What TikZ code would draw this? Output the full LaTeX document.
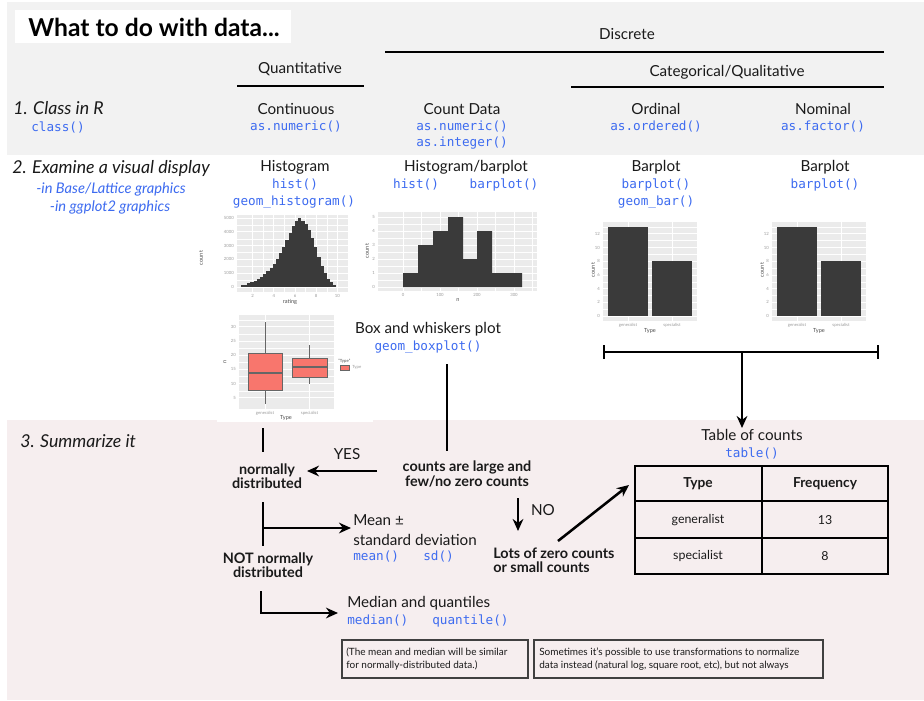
\documentclass[tikz,border=0pt]{standalone}
\usepackage{fontspec}
\setmainfont{Lato}
\setmonofont{DejaVu Sans Mono}
\usetikzlibrary{arrows.meta}
\definecolor{bggray}{HTML}{F2F2F2}
\definecolor{bgpink}{HTML}{F6EEEF}
\definecolor{codeblue}{HTML}{3D6BF0}
\definecolor{panel}{HTML}{EBEBEB}
\definecolor{barc}{HTML}{3A3A3A}
\definecolor{boxfill}{HTML}{F8766D}
\definecolor{tickc}{HTML}{9A9A9A}
\definecolor{textc}{HTML}{1A1A1A}
\tikzset{
  lbl/.style={font=\fontsize{11.4}{13.5}\selectfont, text=textc, inner sep=0pt},
  code/.style={font=\ttfamily\fontsize{9.5}{11}\selectfont, text=codeblue, inner sep=0pt},
  hdr/.style={font=\itshape\fontsize{13.3}{15}\selectfont, text=textc, inner sep=0pt, anchor=west},
  sub/.style={font=\itshape\fontsize{11}{13}\selectfont, text=codeblue, inner sep=0pt},
  flow/.style={font=\bfseries\fontsize{10.8}{10.8}\selectfont, text=textc, inner sep=0pt, align=center},
  rule/.style={line width=2.2pt},
  conn/.style={line width=1.9pt},
  arr/.style={line width=1.9pt, -{Stealth[length=9pt,width=8pt]}},
  tk/.style={font=\fontsize{3.2}{4}\selectfont, text=tickc, inner sep=0pt},
  axl/.style={font=\fontsize{4.2}{5}\selectfont, text=black!70, inner sep=0pt},
  note/.style={font=\fontsize{7.5}{10}\selectfont, text=textc, inner sep=0pt, align=left, anchor=west},
  notebox/.style={draw=black!75, line width=1pt},
  grid/.style={white, line width=0.5pt},
  mgrid/.style={white!97!panel, line width=0.25pt},
  cell/.style={font=\fontsize{9.3}{11}\selectfont, text=textc, inner sep=0pt},
  cellh/.style={font=\bfseries\fontsize{10.3}{12}\selectfont, text=textc, inner sep=0pt},
}
\begin{document}
\begin{tikzpicture}[x=0.75pt,y=-0.75pt]
\useasboundingbox (0,0) rectangle (924,700);
\fill[white] (0,0) rectangle (924,700);
% backgrounds
\fill[bggray] (7,2) rectangle (924,155);
\fill[bgpink] (7,420) rectangle (924,700);
% title
\fill[white] (15,10) rectangle (291,43);
\node[font=\bfseries\fontsize{18.5}{20}\selectfont, inner sep=0pt] (title) at (154,27) {What to do with data...};
% header
\node[lbl] (discrete) at (627,34) {Discrete};
\draw[rule] (385,52) -- (884,52);
\node[lbl] (quant) at (300,69) {Quantitative};
\draw[rule] (237,86) -- (364,86);
\node[lbl] (categ) at (727,72) {Categorical/Qualitative};
\draw[rule] (571,87) -- (884,87);
% row 1
\node[hdr] (s1) at (13,108) {1. Class in R};
\node[code, anchor=west] (c1) at (31,127) {class()};
\node[lbl] (cont) at (296,109) {Continuous};
\node[code] (cont1) at (296,127) {as.numeric()};
\node[lbl] (count) at (462,109) {Count Data};
\node[code] (count1) at (462,127) {as.numeric()};
\node[code] (count2) at (462,143) {as.integer()};
\node[lbl] (ord) at (656,109) {Ordinal};
\node[code] (ord1) at (656,127) {as.ordered()};
\node[lbl] (nom) at (823,109) {Nominal};
\node[code] (nom1) at (823,127) {as.factor()};
% row 2
\node[hdr] (s2) at (12,168) {2. Examine a visual display};
\node[sub] (sub1) at (111,189) {-in Base/Lattice graphics};
\node[sub] (sub2) at (110,207) {-in ggplot2 graphics};
\node[lbl] (h1) at (295,167) {Histogram};
\node[code] (h1a) at (295,185) {hist()};
\node[code] (h1b) at (294,202) {geom\_histogram()};
\node[lbl] (h2) at (466,167) {Histogram/barplot};
\node[code] (h2a) at (416,185) {hist()};
\node[code] (h2b) at (504,185) {barplot()};
\node[lbl] (b1) at (656,167) {Barplot};
\node[code] (b1a) at (656,185) {barplot()};
\node[code] (b1b) at (656,202) {geom\_bar()};
\node[lbl] (b2) at (825,167) {Barplot};
\node[code] (b2a) at (825,185) {barplot()};

% ---------- histogram 1 ----------
\fill[panel] (237,215) rectangle (348,292);
\foreach \r in {3,5,7,9} \draw[mgrid] ({242+(\r-1)*10.6},215) -- ({242+(\r-1)*10.6},292);
\foreach \c in {0.5,1.5,2.5,3.5,4.5} \draw[mgrid] (237,{287-\c*13.8}) -- (348,{287-\c*13.8});
\foreach \r in {2,4,6,8,10} \draw[grid] ({242+(\r-1)*10.6},215) -- ({242+(\r-1)*10.6},292);
\foreach \c in {0,...,5} \draw[grid] (237,{287-\c*13.8}) -- (348,{287-\c*13.8});
\foreach \h [count=\i from 0] in {0.12,0.18,0.28,0.35,0.45,0.6,0.75,0.95,1.15,1.4,1.7,2.05,2.45,2.9,3.4,3.9,4.4,4.75,5.0,4.8,4.55,4.1,3.55,2.9,2.2,1.55,1.0,0.6,0.35,0.18}
  \fill[barc] ({242+(\i*0.3-0.1)*10.6},287) rectangle ++(3.25,{-\h*13.8});
\foreach \c/\t in {0/0,1/1000,2/2000,3/3000,4/4000,5/5000} \node[tk, anchor=east] at (234,{287-\c*13.8}) {\t};
\foreach \r in {2,4,6,8,10} \node[tk] at ({242+(\r-1)*10.6},296) {\r};
\node[axl] (h1x) at (290,302) {rating};
\node[axl, rotate=90] (h1y) at (201,258) {count};

% ---------- histogram 2 ----------
\fill[panel] (378,212) rectangle (537,291);
\foreach \x in {421.5,458.5,495.5,532.5} \draw[mgrid] (\x,212) -- (\x,291);
\foreach \c in {0.5,1.5,2.5,3.5,4.5} \draw[mgrid] (378,{287-\c*14}) -- (537,{287-\c*14});
\foreach \x in {403,440,477,514} \draw[grid] (\x,212) -- (\x,291);
\foreach \c in {0,...,5} \draw[grid] (378,{287-\c*14}) -- (537,{287-\c*14});
\fill[barc] (403,287) -- (403,273) -- (418,273) -- (418,245) -- (433,245) -- (433,231) -- (448,231) -- (448,217) -- (463,217) -- (463,259) -- (477,259) -- (477,231) -- (492,231) -- (492,273) -- (522,273) -- (522,287) -- cycle;
\foreach \c in {0,...,5} \node[tk, anchor=east] at (375,{287-\c*14}) {\c};
\foreach \x/\t in {403/0,440/100,477/200,514/300} \node[tk] at (\x,295) {\t};
\node[axl] (h2x) at (458,300) {n};
\node[axl, rotate=90] (h2y) at (367,251) {count};

% ---------- barplots ----------
\foreach \dx/\nm in {0/p3,169/p4} {
  \begin{scope}[xshift=\dx*0.75pt]
  \fill[panel] (603,222) rectangle (697,321);
  \foreach \v in {1,3,...,13} \draw[mgrid] (603,{316-\v*6.85}) -- (697,{316-\v*6.85});
  \foreach \v in {0,2,...,12} \draw[grid] (603,{316-\v*6.85}) -- (697,{316-\v*6.85});
  \draw[grid] (628,222) -- (628,321);
  \draw[grid] (672,222) -- (672,321);
  \fill[barc] (608,316) rectangle (648,{316-13*6.85});
  \fill[barc] (652,316) rectangle (692,{316-8*6.85});
  \foreach \v in {0,2,...,12} \node[tk, anchor=east] at (600,{316-\v*6.85}) {\v};
  \node[tk] at (628,325) {generalist};
  \node[tk] at (672,325) {specialist};
  \node[axl] at (650,331) {Type};
  \node[axl, rotate=90] at (593,270) {count};
  \end{scope}
}

% ---------- boxplot ----------
\fill[white] (217,310) rectangle (373,422);
\fill[panel] (239,315) rectangle (334,409);
\foreach \v in {7.5,12.5,...,32.5} \draw[mgrid] (239,{412-2.84*\v}) -- (334,{412-2.84*\v});
\foreach \v in {5,10,...,30} \draw[grid] (239,{412-2.84*\v}) -- (334,{412-2.84*\v});
\draw[grid] (265,315) -- (265,409);
\draw[grid] (309.5,315) -- (309.5,409);
\draw[black!60, line width=0.6pt] (265,322) -- (265,404);
\draw[black!60, line width=0.6pt, fill=boxfill] (248,353) rectangle (282,390);
\draw[black!60, line width=0.8pt] (248,373) -- (282,373);
\draw[black!60, line width=0.6pt] (309.5,345) -- (309.5,384);
\draw[black!60, line width=0.6pt, fill=boxfill] (292,358) rectangle (327,377);
\draw[black!60, line width=0.8pt] (292,367) -- (327,367);
\foreach \v in {5,10,...,30} \node[tk, anchor=east] at (236,{412-2.84*\v}) {\v};
\node[tk] at (265,413) {generalist};
\node[tk] at (309.5,413) {specialist};
\node[axl] at (286,418) {Type};
\node[axl, rotate=90] at (225,362) {n};
\node[tk, text=black!70, anchor=west] at (338,361) {"Type"};
\draw[black!60, line width=0.4pt, fill=boxfill] (340,365) rectangle (349,370);
\node[tk, anchor=west] at (352,367.5) {Type};
\node[lbl] (bw) at (428,329) {Box and whiskers plot};
\node[code] (bwc) at (428,347) {geom\_boxplot()};

% ---------- bracket to table ----------
\coordinate (brL) at (604,352);
\coordinate (brR) at (878,352);
\coordinate (brM) at (742,352);
\draw[conn] (brL) -- (brR);
\draw[conn] (604,345) -- (604,359);
\draw[conn] (878,345) -- (878,359);
\node[lbl] (toc) at (752,435) {Table of counts};
\node[code] (tocc) at (752,453) {table()};
\coordinate (tocTop) at (742,428);
\draw[arr] (brM) -- (tocTop);

% ---------- section 3 ----------
\node[hdr] (s3) at (20,441) {3. Summarize it};
\node[flow] (nd) at (267,476) {normally\\distributed};
\node[flow] (cl) at (467,474) {counts are large and\\few/no zero counts};
\node[flow] (nnd) at (268,565) {NOT normally\\distributed};
\node[flow, align=left, anchor=west] (lz) at (493,560) {Lots of zero counts\\or small counts};
\node[lbl] (yes) at (347,454) {YES};
\node[lbl] (no) at (543,510) {NO};
\node[lbl, align=left, anchor=west, font=\fontsize{11.4}{15}\selectfont] (mean) at (353,530) {Mean ±\\standard deviation};
\node[code, anchor=west] (meanc) at (353,557) {mean()};
\node[code, anchor=west] (sdc) at (423,557) {sd()};
\node[lbl, anchor=west] (med) at (347,603) {Median and quantiles};
\node[code, anchor=west] (medc) at (347,621) {median()};
\node[code, anchor=west] (qc) at (432,621) {quantile()};

\coordinate (bxTop) at (447,364);
\coordinate (bxBot) at (447,451);
\draw[conn] (bxTop) -- (bxBot);
\coordinate (bpBot) at (263,428);
\coordinate (ndTop) at (263,452);
\draw[conn] (bpBot) -- (ndTop);
\coordinate (yesS) at (377,471);
\coordinate (yesE) at (307,471);
\draw[arr] (yesS) -- (yesE);
\coordinate (noS) at (518,498);
\coordinate (noE) at (518,531);
\draw[arr] (noS) -- (noE);
\coordinate (dgS) at (558,541);
\coordinate (dgE) at (629,485);
\draw[arr] (dgS) -- (dgE);
\coordinate (vA) at (263,502);
\coordinate (vB) at (263,546);
\draw[conn] (vA) -- (vB);
\coordinate (mS) at (263,528);
\coordinate (mE) at (351,528);
\draw[arr] (mS) -- (mE);
\coordinate (lS) at (261,591);
\coordinate (lE) at (338,613);
\draw[arr] (lS) |- (lE);

% ---------- table ----------
\draw[line width=1.5pt] (635,466) rectangle (888,574);
\draw[line width=1.5pt] (762,466) -- (762,574);
\draw[line width=1.5pt] (635,501) -- (888,501);
\draw[line width=1.5pt] (635,538) -- (888,538);
\node[cellh] (tt) at (698,484) {Type};
\node[cellh] (tf) at (825,484) {Frequency};
\node[cell] (tg) at (698,520) {generalist};
\node[cell] (t13) at (825,520) {13};
\node[cell] (ts) at (698,556) {specialist};
\node[cell] (t8) at (825,556) {8};

% ---------- notes ----------
\draw[notebox] (342,640) rectangle (528,678);
\node[note] (n1) at (346,659) {(The mean and median will be similar\\for normally-distributed data.)};
\draw[notebox] (534,640) rectangle (823,678);
\node[note] (n2) at (539,659) {Sometimes it’s possible to use transformations to normalize\\data instead (natural log, square root, etc), but not always};
\end{tikzpicture}
\end{document}
